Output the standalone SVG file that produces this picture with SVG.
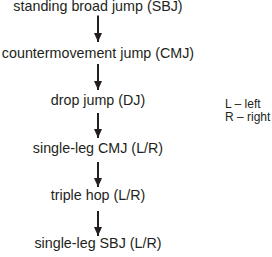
<svg xmlns="http://www.w3.org/2000/svg" width="272" height="257" viewBox="0 0 272 257">
<defs>
<style>
.t{font-family:"Liberation Sans",Arial,sans-serif;font-size:14.3px;fill:#231f20;text-anchor:middle}
.l{font-family:"Liberation Sans",Arial,sans-serif;font-size:12px;fill:#231f20}
.c{stroke:#231f20;stroke-width:2;fill:none}
</style>
<marker id="ah" markerWidth="9" markerHeight="8" refX="9" refY="4" orient="auto" markerUnits="userSpaceOnUse" viewBox="0 0 9 8">
<path d="M0,0 L9,4 L0,8 Z" fill="#231f20"/>
</marker>
</defs>
<rect width="272" height="257" fill="#fff"/>
<g id="n1"><text class="t" x="98" y="10.6">standing broad jump (SBJ)</text></g>
<g id="n2"><text class="t" x="98" y="57.5">countermovement jump (CMJ)</text></g>
<g id="n3"><text class="t" x="98" y="105.2">drop jump (DJ)</text></g>
<g id="n4"><text class="t" x="98" y="152.8">single-leg CMJ (L/R)</text></g>
<g id="n5"><text class="t" x="98" y="200.4">triple hop (L/R)</text></g>
<g id="n6"><text class="t" x="98" y="248">single-leg SBJ (L/R)</text></g>
<g id="legend"><text class="l" x="225" y="108">L – left</text><text class="l" x="225" y="120.5">R – right</text></g>
<g id="connectors">
<path class="c" d="M98,15.5 V42" marker-end="url(#ah)"/>
<path class="c" d="M98,64 V90" marker-end="url(#ah)"/>
<path class="c" d="M98,113 V138" marker-end="url(#ah)"/>
<path class="c" d="M98,162 V187" marker-end="url(#ah)"/>
<path class="c" d="M98,211 V236" marker-end="url(#ah)"/>
</g>
</svg>
